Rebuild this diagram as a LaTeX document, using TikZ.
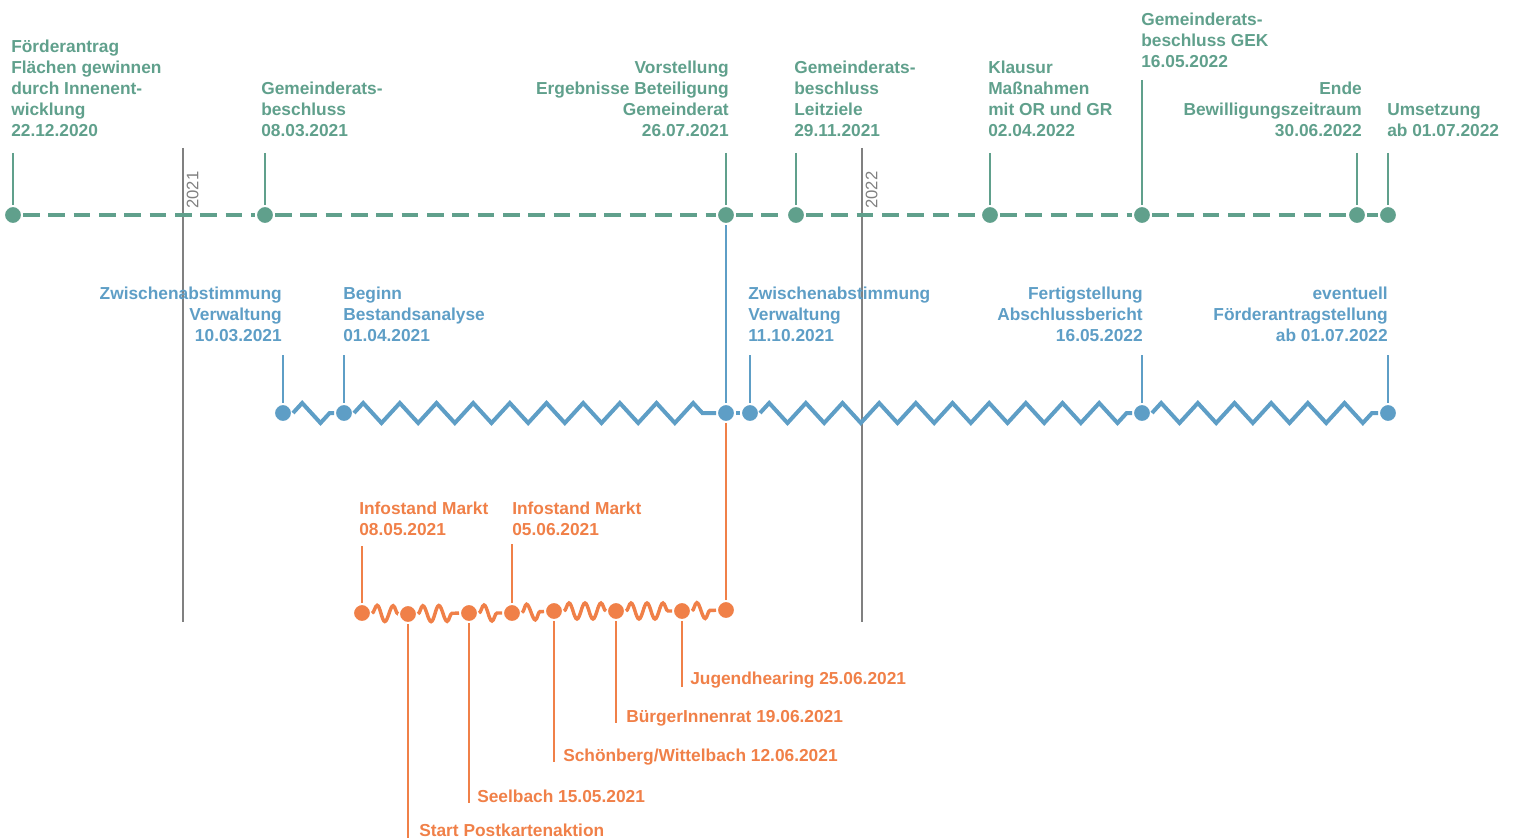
\documentclass[tikz,border=0pt]{standalone}
\usepackage{fontspec}
\setmainfont{Liberation Sans}
\usetikzlibrary{decorations.pathmorphing}
\definecolor{tlgreen}{RGB}{96,160,140}
\definecolor{tlblue}{RGB}{94,158,198}
\definecolor{tlorange}{RGB}{240,128,72}
\definecolor{tlgray}{RGB}{128,128,128}
\tikzset{
  lbl/.style={inner sep=0pt, font=\fontsize{13}{15.75}\selectfont\bfseries},
  glbl/.style={lbl, text=tlgreen},
  blbl/.style={lbl, text=tlblue},
  olbl/.style={lbl, text=tlorange},
  dotnode/.style={circle, draw=white, line width=1.5pt, minimum size=13.5pt, inner sep=0pt},
  gdot/.style={dotnode, fill=tlgreen},
  bdot/.style={dotnode, fill=tlblue},
  odot/.style={dotnode, fill=tlorange},
  gtick/.style={draw=tlgreen, line width=1.5pt},
  btick/.style={draw=tlblue, line width=1.5pt},
  otick/.style={draw=tlorange, line width=1.5pt},
  gline/.style={draw=tlgreen, line width=3.2pt, dash pattern=on 12.5pt off 6.5pt},
  bwave/.style={draw=tlblue, line width=3pt, decorate,
    decoration={zigzag, amplitude=7.5pt, segment length=27.5pt}},
  owave/.style={draw=tlorange, line width=2.6pt, decorate,
    decoration={snake, amplitude=6pt, segment length=12pt}},
  yearline/.style={draw=tlgray, line width=1.5pt},
  yearlbl/.style={inner sep=0pt, text=tlgray, font=\fontsize{12.5}{14}\selectfont, rotate=90, anchor=north west}
}
\begin{document}
\begin{tikzpicture}[x=0.75pt,y=-0.75pt]
\useasboundingbox (0,0) rectangle (1513,838);

% year lines
\coordinate (y1t) at (183,148); \coordinate (y1b) at (183,622);
\coordinate (y2t) at (862,148); \coordinate (y2b) at (862,622);
\draw[yearline] (y1t) -- (y1b);
\draw[yearline] (y2t) -- (y2b);
\node[yearlbl] (yr1) at (186.5,209) {2021};
\node[yearlbl] (yr2) at (865.5,209) {2022};

% dots
\node[gdot] (g1) at (13,215) {};
\node[gdot] (g2) at (265,215) {};
\node[gdot] (g3) at (726,215) {};
\node[gdot] (g4) at (796,215) {};
\node[gdot] (g5) at (990,215) {};
\node[gdot] (g6) at (1142,215) {};
\node[gdot] (g7) at (1357,215) {};
\node[gdot] (g8) at (1388,215) {};

\node[bdot] (b1) at (283,413) {};
\node[bdot] (b2) at (344,413) {};
\node[bdot] (b3) at (726,413) {};
\node[bdot] (b4) at (750,413) {};
\node[bdot] (b5) at (1142,413) {};
\node[bdot] (b6) at (1388,413) {};

\node[odot] (o1) at (362,613) {};
\node[odot] (o2) at (408,614) {};
\node[odot] (o3) at (469,613) {};
\node[odot] (o4) at (512,613) {};
\node[odot] (o5) at (554,611) {};
\node[odot] (o6) at (616,611) {};
\node[odot] (o7) at (682,611) {};
\node[odot] (o8) at (726,610) {};

% green dashed line
\draw[gline] (g1) -- (g2);
\draw[gline] (g2) -- (g3);
\draw[gline] (g3) -- (g4);
\draw[gline] (g4) -- (g5);
\draw[gline] (g5) -- (g6);
\draw[gline] (g6) -- (g7);
\draw[gline] (g7) -- (g8);

% blue zigzag
\draw[bwave] (b1) -- (b2);
\draw[bwave] (b2) -- (b3);
\draw[bwave] (b3) -- (b4);
\draw[bwave] (b4) -- (b5);
\draw[bwave] (b5) -- (b6);

% orange snake
\draw[owave] (o1) -- (o2);
\draw[owave] (o2) -- (o3);
\draw[owave] (o3) -- (o4);
\draw[owave] (o4) -- (o5);
\draw[owave] (o5) -- (o6);
\draw[owave] (o6) -- (o7);
\draw[owave] (o7) -- (o8);

% green labels
\node[glbl, anchor=base west, align=left] (lg1) at (11,137) {Förderantrag\\Flächen gewinnen\\durch Innenent-\\wicklung\\22.12.2020};
\node[glbl, anchor=base west, align=left] (lg2) at (261,137) {Gemeinderats-\\beschluss\\08.03.2021};
\node[glbl, anchor=base east, align=right] (lg3) at (729,137) {Vorstellung\\Ergebnisse Beteiligung\\Gemeinderat\\26.07.2021};
\node[glbl, anchor=base west, align=left] (lg4) at (794,137) {Gemeinderats-\\beschluss\\Leitziele\\29.11.2021};
\node[glbl, anchor=base west, align=left] (lg5) at (988,137) {Klausur\\Maßnahmen\\mit OR und GR\\02.04.2022};
\node[glbl, anchor=base west, align=left] (lg6) at (1141,68) {Gemeinderats-\\beschluss GEK\\16.05.2022};
\node[glbl, anchor=base east, align=right] (lg7) at (1362,137) {Ende\\Bewilligungszeitraum\\30.06.2022};
\node[glbl, anchor=base west, align=left] (lg8) at (1387,137) {Umsetzung\\ab 01.07.2022};

\coordinate (tg1) at (13,153);
\coordinate (tg2) at (265,153);
\coordinate (tg3) at (726,153);
\coordinate (tg4) at (796,153);
\coordinate (tg5) at (990,153);
\coordinate (tg6) at (1142,80);
\coordinate (tg7) at (1357,153);
\coordinate (tg8) at (1388,153);
\draw[gtick] (tg1) -- (g1);
\draw[gtick] (tg2) -- (g2);
\draw[gtick] (tg3) -- (g3);
\draw[gtick] (tg4) -- (g4);
\draw[gtick] (tg5) -- (g5);
\draw[gtick] (tg6) -- (g6);
\draw[gtick] (tg7) -- (g7);
\draw[gtick] (tg8) -- (g8);

% blue labels
\node[blbl, anchor=base east, align=right] (lb1) at (282,341) {Zwischenabstimmung\\Verwaltung\\10.03.2021};
\node[blbl, anchor=base west, align=left] (lb2) at (343,341) {Beginn\\Bestandsanalyse\\01.04.2021};
\node[blbl, anchor=base west, align=left] (lb4) at (748,341) {Zwischenabstimmung\\Verwaltung\\11.10.2021};
\node[blbl, anchor=base east, align=right] (lb5) at (1143,341) {Fertigstellung\\Abschlussbericht\\16.05.2022};
\node[blbl, anchor=base east, align=right] (lb6) at (1388,341) {eventuell\\Förderantragstellung\\ab 01.07.2022};

\coordinate (tb1) at (283,355);
\coordinate (tb2) at (344,355);
\coordinate (tb4) at (750,355);
\coordinate (tb5) at (1142,355);
\coordinate (tb6) at (1388,355);
\draw[btick] (tb1) -- (b1);
\draw[btick] (tb2) -- (b2);
\draw[btick] (tb4) -- (b4);
\draw[btick] (tb5) -- (b5);
\draw[btick] (tb6) -- (b6);
\draw[btick] (g3) -- (b3);
\draw[otick] (b3) -- (o8);

% orange labels
\node[olbl, anchor=base west, align=left] (lo1) at (359,535) {Infostand Markt\\08.05.2021};
\node[olbl, anchor=base west, align=left] (lo4) at (512,535) {Infostand Markt\\05.06.2021};
\node[olbl, anchor=base west] (lo7) at (690,684) {Jugendhearing 25.06.2021};
\node[olbl, anchor=base west] (lo6) at (626,722) {BürgerInnenrat 19.06.2021};
\node[olbl, anchor=base west] (lo5) at (563,761) {Schönberg/Wittelbach 12.06.2021};
\node[olbl, anchor=base west] (lo3) at (477,802) {Seelbach 15.05.2021};
\node[olbl, anchor=base west] (lo2) at (419,836) {Start Postkartenaktion};

\coordinate (to1) at (362,546);
\coordinate (to4) at (512,544);
\coordinate (to7) at (682,687);
\coordinate (to6) at (616,723);
\coordinate (to5) at (554,762);
\coordinate (to3) at (469,803);
\coordinate (to2) at (408,838);
\draw[otick] (to1) -- (o1);
\draw[otick] (to4) -- (o4);
\draw[otick] (o7) -- (to7);
\draw[otick] (o6) -- (to6);
\draw[otick] (o5) -- (to5);
\draw[otick] (o3) -- (to3);
\draw[otick] (o2) -- (to2);
\end{tikzpicture}
\end{document}
